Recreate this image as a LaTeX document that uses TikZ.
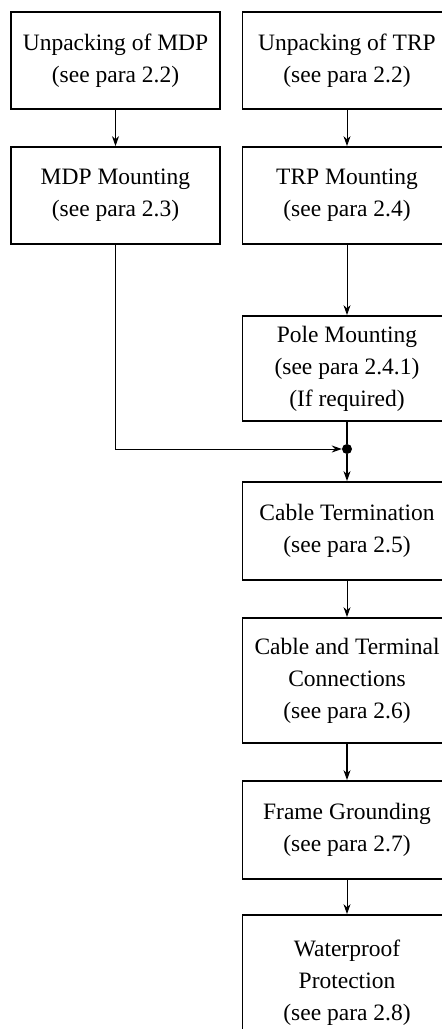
\documentclass[tikz,border=0pt]{standalone}
\usepackage{fontspec}
\setmainfont{Liberation Serif}
\usetikzlibrary{arrows.meta}
\begin{document}
\begin{tikzpicture}[x=1pt,y=-1pt,
  stepbox/.style={draw, line width=1.8pt, inner sep=0pt, align=center,
    minimum width=209pt, font=\fontsize{23.5}{32}\selectfont},
  conn/.style={line width=1pt},
  arr/.style={conn, -{Stealth[length=10pt,width=7pt]}}]
\useasboundingbox (0,0) rectangle (442,1029);
\clip (0,0) rectangle (442,1029);
\node[stepbox, minimum height=97pt] (u1) at (115.5,60.5) {Unpacking of MDP\\(see para 2.2)};
\node[stepbox, minimum height=97pt] (u2) at (347,60.5) {Unpacking of TRP\\(see para 2.2)};
\node[stepbox, minimum height=97pt] (m1) at (115.5,195.5) {MDP Mounting\\(see para 2.3)};
\node[stepbox, minimum height=97pt] (m2) at (347,195.5) {TRP Mounting\\(see para 2.4)};
\node[stepbox, minimum height=105pt] (pole) at (347,368.5) {Pole Mounting\\(see para 2.4.1)\\(If required)};
\node[circle, fill, inner sep=0pt, minimum size=10pt] (dot) at (347,449) {};
\node[stepbox, minimum height=98pt] (ct) at (347,531) {Cable Termination\\(see para 2.5)};
\node[stepbox, minimum height=125pt] (cc) at (347,680.5) {Cable and Terminal\\Connections\\(see para 2.6)};
\node[stepbox, minimum height=98pt] (fg) at (347,830) {Frame Grounding\\(see para 2.7)};
\node[stepbox, minimum height=136pt] (wp) at (347,983) {Waterproof\\Protection\\(see para 2.8)};
\coordinate (bend) at (m1.south |- dot);
\draw[arr] (u1) -- (m1);
\draw[arr] (u2) -- (m2);
\draw[arr] (m2) -- (pole);
\draw[conn, line width=1.5pt] (pole) -- (dot);
\draw[arr] (m1.south) -- (bend) -- (dot);
\draw[arr, line width=1.5pt] (dot) -- (ct);
\draw[arr] (ct) -- (cc);
\draw[arr, line width=1.3pt] (cc) -- (fg);
\draw[arr] (fg) -- (wp);
\end{tikzpicture}
\end{document}
